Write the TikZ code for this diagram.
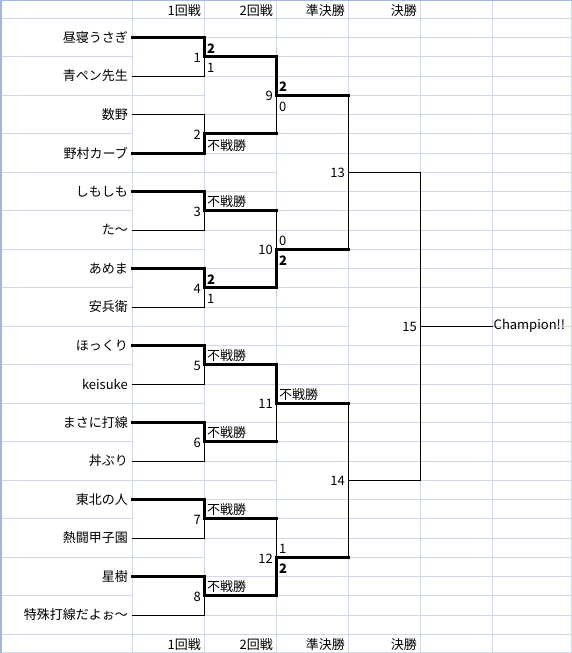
\documentclass[tikz,border=0pt]{standalone}
\usepackage{fontspec}
\setmainfont{Noto Sans CJK JP}
\newcommand\myfs{\fontsize{13}{15}\selectfont}
\definecolor{gridc}{HTML}{D0D7E5}
\definecolor{borderc}{HTML}{9FBAD8}
\begin{document}
\begin{tikzpicture}[x=1pt,y=-1pt,
  grid/.style={draw=gridc,line width=0.8pt},
  win/.style={line width=3pt,line cap=rect},
  lose/.style={line width=1pt,line cap=rect},
  team/.style={anchor=east,inner xsep=4pt,inner ysep=0pt,font=\myfs},
  mnum/.style={anchor=east,inner sep=0pt,font=\myfs},
  sc/.style={anchor=base west,inner sep=0pt,font=\myfs},
  hdr/.style={anchor=east,inner sep=0pt,font=\myfs}]
\useasboundingbox (0,0) rectangle (572,653);
\fill[white] (0,0) rectangle (572,653);
% ---------- grid ----------
\foreach \k in {0,...,32}{
  \pgfmathsetmacro\yy{18.3+19.25*\k}
  \pgfmathtruncatemacro\ra{mod(\k,2)}
  \pgfmathtruncatemacro\rb{mod(\k,4)}
  \pgfmathtruncatemacro\rc{mod(\k,8)}
  \pgfmathtruncatemacro\rd{mod(\k,16)}
  \ifnum\ra=0 \draw[grid] (0,\yy) -- (132,\yy); \fi
  \ifnum\rb=2 \else \draw[grid] (132,\yy) -- (204,\yy); \fi
  \ifnum\rc=4 \else \draw[grid] (204,\yy) -- (276,\yy); \fi
  \ifnum\rd=8 \else \draw[grid] (276,\yy) -- (348,\yy); \fi
  \ifnum\k=16 \else \draw[grid] (348,\yy) -- (420,\yy); \fi
  \draw[grid] (420,\yy) -- (571.5,\yy);
}
\foreach \x in {132,204,276,348,420,492,571.5}{\draw[grid] (\x,0) -- (\x,652.5);}
\draw[grid] (0,652.5) -- (571.5,652.5);
\draw[draw=borderc,line width=1.2pt] (0,0.6) -- (572,0.6);
\draw[draw=borderc,line width=1.6pt] (0.8,0) -- (0.8,653);
% ---------- headers ----------
\node[hdr] (h1) at (201,11) {1回戦};
\node[hdr] (h2) at (273,11) {2回戦};
\node[hdr] (h3) at (345,11) {準決勝};
\node[hdr] (h4) at (417,11) {決勝};
\node[hdr] (f1) at (201,644.5) {1回戦};
\node[hdr] (f2) at (273,644.5) {2回戦};
\node[hdr] (f3) at (345,644.5) {準決勝};
\node[hdr] (f4) at (417,644.5) {決勝};
% ---------- teams ----------
\node[team] (t0) at (132,37.55) {昼寝うさぎ};
\node[team] (t1) at (132,76.05) {青ペン先生};
\node[team] (t2) at (132,114.55) {数野};
\node[team] (t3) at (132,153.05) {野村カーブ};
\node[team] (t4) at (132,191.55) {しもしも};
\node[team] (t5) at (132,230.05) {た～};
\node[team] (t6) at (132,268.55) {あめま};
\node[team] (t7) at (132,307.05) {安兵衛};
\node[team] (t8) at (132,345.55) {ほっくり};
\node[team] (t9) at (132,384.05) {keisuke};
\node[team] (t10) at (132,422.55) {まさに打線};
\node[team] (t11) at (132,461.05) {丼ぶり};
\node[team] (t12) at (132,499.55) {東北の人};
\node[team] (t13) at (132,538.05) {熱闘甲子園};
\node[team] (t14) at (132,576.55) {星樹};
\node[team] (t15) at (132,615.05) {特殊打線だよぉ～};
% ---------- junctions ----------
\coordinate (J1) at (204,56.8);
\coordinate (J2) at (204,133.8);
\coordinate (J3) at (204,210.8);
\coordinate (J4) at (204,287.8);
\coordinate (J5) at (204,364.8);
\coordinate (J6) at (204,441.8);
\coordinate (J7) at (204,518.8);
\coordinate (J8) at (204,595.8);
\coordinate (J9) at (276,95.3);
\coordinate (J10) at (276,249.3);
\coordinate (J11) at (276,403.3);
\coordinate (J12) at (276,557.3);
\coordinate (J13) at (348,172.3);
\coordinate (J14) at (348,480.3);
\coordinate (J15) at (420,326.3);
% ---------- match numbers ----------
\node[mnum] (m1) at (201,57.8) {1};
\node[mnum] (m2) at (201,134.8) {2};
\node[mnum] (m3) at (201,211.8) {3};
\node[mnum] (m4) at (201,288.8) {4};
\node[mnum] (m5) at (201,365.8) {5};
\node[mnum] (m6) at (201,442.8) {6};
\node[mnum] (m7) at (201,519.8) {7};
\node[mnum] (m8) at (201,596.8) {8};
\node[mnum] (m9) at (273,96.3) {9};
\node[mnum] (m10) at (273,250.3) {10};
\node[mnum] (m11) at (273,404.3) {11};
\node[mnum] (m12) at (273,558.3) {12};
\node[mnum] (m13) at (345,173.3) {13};
\node[mnum] (m14) at (345,481.3) {14};
\node[mnum] (m15) at (417,327.3) {15};
\node[anchor=west,inner xsep=1.5pt,inner ysep=0pt,font=\myfs] (champ) at (492,326.3) {Champion!!};
% ---------- scores / walkovers ----------
\node[sc] (s1a) at (207,53.3) {\bfseries 2};
\node[sc] (s1b) at (207,72.8) {1};
\node[sc] (s2b) at (207,150.3) {不戦勝};
\node[sc] (s3a) at (207,206.8) {不戦勝};
\node[sc] (s4a) at (207,284.3) {\bfseries 2};
\node[sc] (s4b) at (207,303.8) {1};
\node[sc] (s5a) at (207,360.8) {不戦勝};
\node[sc] (s6a) at (207,437.8) {不戦勝};
\node[sc] (s7a) at (207,514.8) {不戦勝};
\node[sc] (s8a) at (207,591.8) {不戦勝};
\node[sc] (s9a) at (279,91.8) {\bfseries 2};
\node[sc] (s9b) at (279,111.3) {0};
\node[sc] (s10a) at (279,245.8) {0};
\node[sc] (s10b) at (279,265.3) {\bfseries 2};
\node[sc] (s11a) at (279,399.3) {不戦勝};
\node[sc] (s12a) at (279,553.8) {1};
\node[sc] (s12b) at (279,573.3) {\bfseries 2};
% ---------- round 1 ----------
\draw[lose] (t1.east) -| (J1);
\draw[win]  (t0.east) -| (J1);
\draw[lose] (t2.east) -| (J2);
\draw[win]  (t3.east) -| (J2);
\draw[lose] (t5.east) -| (J3);
\draw[win]  (t4.east) -| (J3);
\draw[lose] (t7.east) -| (J4);
\draw[win]  (t6.east) -| (J4);
\draw[lose] (t9.east) -| (J5);
\draw[win]  (t8.east) -| (J5);
\draw[lose] (t11.east) -| (J6);
\draw[win]  (t10.east) -| (J6);
\draw[lose] (t13.east) -| (J7);
\draw[win]  (t12.east) -| (J7);
\draw[lose] (t15.east) -| (J8);
\draw[win]  (t14.east) -| (J8);
% ---------- round 2 ----------
\draw[lose] (J2 -| J9) -- (J9);
\draw[win]  (J2) -- (J2 -| J9);
\draw[win]  (J1) -| (J9);
\draw[lose] (J3 -| J10) -- (J10);
\draw[win]  (J3) -- (J3 -| J10);
\draw[win]  (J4) -| (J10);
\draw[lose] (J6 -| J11) -- (J11);
\draw[win]  (J6) -- (J6 -| J11);
\draw[win]  (J5) -| (J11);
\draw[lose] (J7 -| J12) -- (J12);
\draw[win]  (J7) -- (J7 -| J12);
\draw[win]  (J8) -| (J12);
% ---------- semi-finals ----------
\draw[lose] (J9 -| J13) -- (J13);
\draw[lose] (J10 -| J13) -- (J13);
\draw[win]  (J9) -- (J9 -| J13);
\draw[win]  (J10) -- (J10 -| J13);
\draw[lose] (J11 -| J14) -- (J14);
\draw[lose] (J12 -| J14) -- (J14);
\draw[win]  (J11) -- (J11 -| J14);
\draw[win]  (J12) -- (J12 -| J14);
% ---------- final ----------
\draw[lose] (J13) -| (J15);
\draw[lose] (J14) -| (J15);
\draw[lose] (J15) -- (champ.west);
\end{tikzpicture}
\end{document}
